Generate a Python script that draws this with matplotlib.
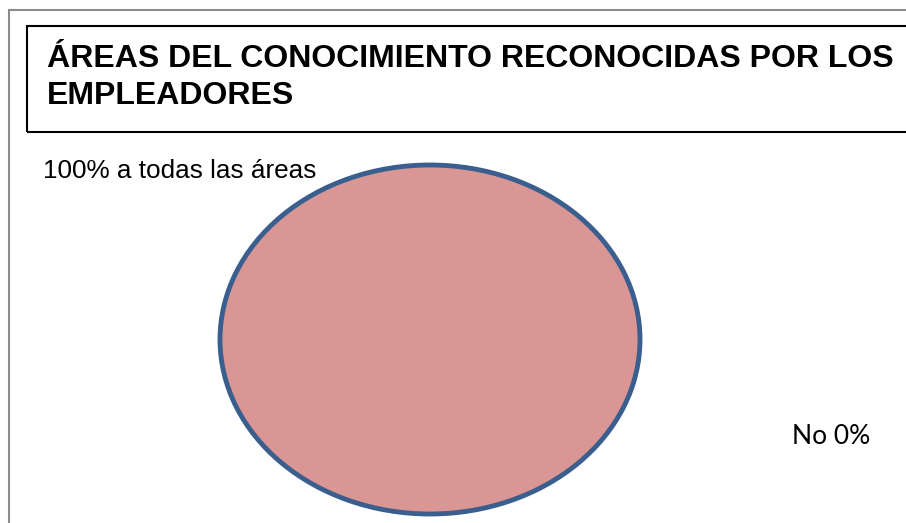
import matplotlib
matplotlib.use('Agg')
import matplotlib.pyplot as plt
from matplotlib.patches import Rectangle

# datos del grafico
categorias = ['a todas las áreas', 'No']
valores = [100, 0]
etiquetas = ['100% a todas las áreas', 'No 0%']
titulo = 'ÁREAS DEL CONOCIMIENTO RECONOCIDAS POR LOS\nEMPLEADORES'

W, H = 906, 523
fig = plt.figure(figsize=(W / 100, H / 100), dpi=100)

# marco exterior gris y caja del titulo
fig.patches.append(Rectangle((8.5 / W, -0.1), 1.2, 1 - 10.5 / H + 0.1,
                             transform=fig.transFigure, fill=False,
                             edgecolor='#8c8c8c', lw=1.5))
fig.patches.append(Rectangle((26.5 / W, 1 - 132 / H), 1.2, (132 - 25.5) / H,
                             transform=fig.transFigure, fill=False,
                             edgecolor='black', lw=1.5))
fig.text(47 / W, 1 - 44 / H, titulo, ha='left', va='top',
         fontsize=23, fontweight='bold', family='Liberation Sans',
         linespacing=1.3)

# torta (elipse, sin aspecto igual)
ax = fig.add_axes([220 / W, 9 / H, 420 / W, 349 / H])
wedges, _ = ax.pie(valores, colors=['#d99694', '#4f81bd'], startangle=90,
                   counterclock=False,
                   wedgeprops=dict(edgecolor='#3a5f8e', linewidth=3.5))
for w, v in zip(wedges, valores):
    if v == 0:
        w.set_visible(False)
    w.set_clip_on(False)
ax.set_aspect('auto')
ax.set_xlim(-1, 1)
ax.set_ylim(-1, 1)
ax.axis('off')

fig.text(43 / W, 1 - 178 / H, etiquetas[0], ha='left', va='baseline',
         fontsize=18.8, family='Liberation Sans')
fig.text(792 / W, 1 - 444 / H, etiquetas[1], ha='left', va='baseline',
         fontsize=19, family='Lato')

fig.savefig('out.png', dpi=100)
